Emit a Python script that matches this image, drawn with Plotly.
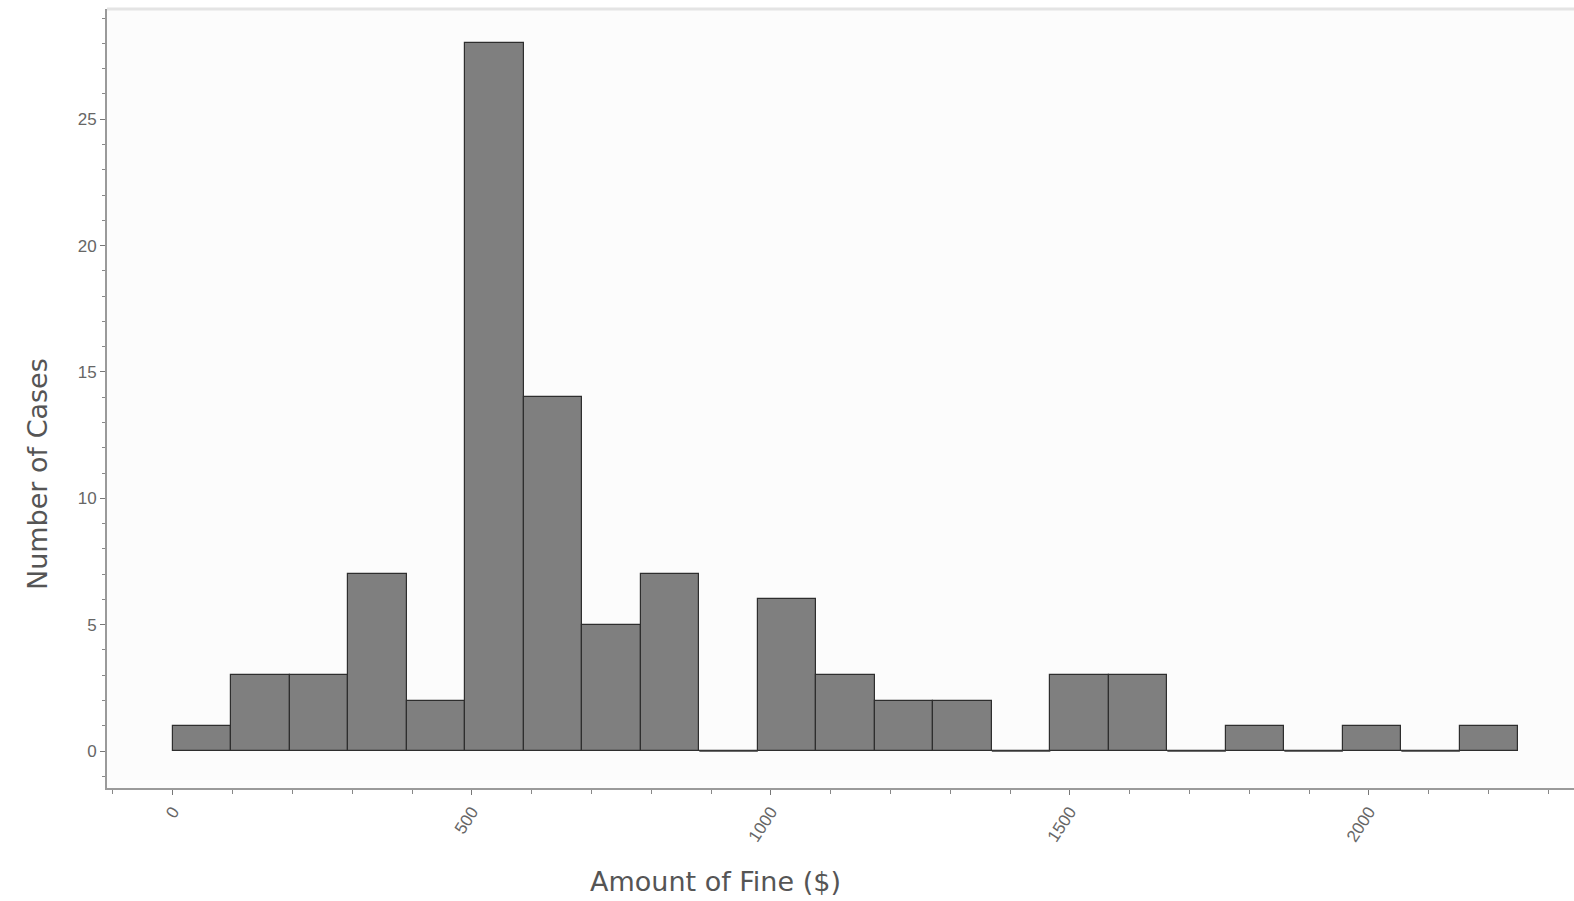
import plotly.graph_objects as go

# Histogram data
bin_start = 0.0
bin_end = 2250.0
counts = [1, 3, 3, 7, 2, 28, 14, 5, 7, 0, 6, 3, 2, 2, 0, 3, 3, 0, 1, 0, 1, 0, 1]

n_bins = len(counts)
bw = (bin_end - bin_start) / n_bins
edges = [bin_start + i * bw for i in range(n_bins + 1)]
centers = [(edges[i] + edges[i + 1]) / 2 for i in range(n_bins)]

# baseline segments for empty bins
zx, zy = [], []
for i, c in enumerate(counts):
    if c == 0:
        zx += [edges[i], edges[i + 1], None]
        zy += [0, 0, None]

fig = go.Figure()
fig.add_trace(go.Scatter(x=zx, y=zy, mode="lines",
                         line=dict(color="#3a3a3a", width=1.5),
                         hoverinfo="skip", showlegend=False))
fig.add_trace(go.Bar(x=centers, y=counts, width=[bw] * n_bins,
                     marker=dict(color="#7f7f7f", line=dict(color="#2e2e2e", width=1.2)),
                     showlegend=False))

tickfont = dict(family="Arial, Liberation Sans, sans-serif", size=17, color="#666666")
titlefont = dict(family="DejaVu Sans, sans-serif", size=27, color="#555555")
fig.update_layout(
    width=1574, height=901,
    margin=dict(l=107, r=0, t=9, b=113),
    paper_bgcolor="#ffffff",
    plot_bgcolor="#fcfcfc",
    bargap=0,
    showlegend=False,
    xaxis=dict(range=[-110, 2343], tick0=0, dtick=500, ticks="outside", ticklen=5,
               tickcolor="#777", tickwidth=1, tickangle=-57, tickfont=tickfont,
               showgrid=False, zeroline=False, showline=True, linecolor="#9a9a9a", linewidth=2,
               minor=dict(dtick=100, tick0=0, ticks="outside", ticklen=4, tickcolor="#888", showgrid=False)),
    yaxis=dict(range=[-1.46, 29.36], tick0=0, dtick=5, ticks="outside", ticklen=5,
               tickcolor="#777", tickwidth=1, tickfont=tickfont,
               showgrid=False, zeroline=False, showline=True, linecolor="#9a9a9a", linewidth=2,
               minor=dict(dtick=1, tick0=0, ticks="outside", ticklen=3, tickcolor="#888", showgrid=False)),
    shapes=[dict(type="line", xref="paper", yref="paper", x0=0, x1=1, y0=1, y1=1,
                 line=dict(color="#e4e4e4", width=3))],
    annotations=[
        dict(text="Amount of Fine ($)", xref="paper", yref="paper",
             x=(715 - 107) / 1467, y=-(882 - 788) / 779, xanchor="center", yanchor="middle",
             showarrow=False, font=titlefont),
        dict(text="Number of Cases", xref="paper", yref="paper",
             x=-(107 - 37) / 1467, y=(788 - 474) / 779, xanchor="center", yanchor="middle",
             textangle=-90, showarrow=False, font=titlefont),
    ],
)

fig.write_html("out.html")
